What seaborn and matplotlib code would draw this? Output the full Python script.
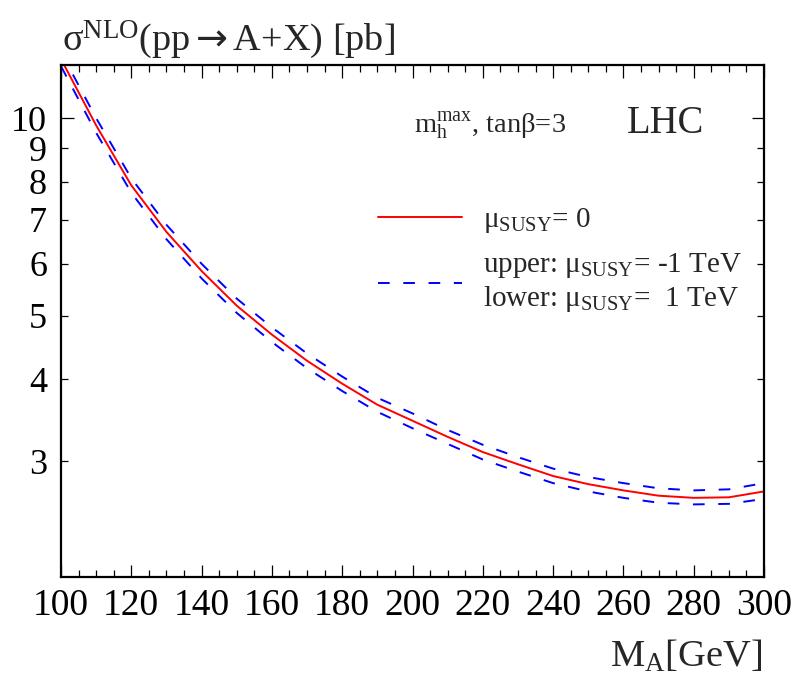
import matplotlib
matplotlib.use("Agg")
import numpy as np
import pandas as pd
import matplotlib.pyplot as plt
import seaborn as sns
from matplotlib.ticker import FixedLocator, MultipleLocator, FuncFormatter
from matplotlib.lines import Line2D

# ---- data ----
mass = [100, 110, 120, 130, 140, 150, 160, 170, 180, 190, 200,
        210, 220, 230, 240, 250, 260, 270, 280, 290, 300]
sigma_mu0 = [12.3, 9.75, 7.90, 6.71, 5.85, 5.18, 4.68, 4.27, 3.94, 3.66, 3.46,
             3.27, 3.10, 2.97, 2.85, 2.77, 2.71, 2.66, 2.64, 2.645, 2.70]
sigma_mu_m1 = [12.6, 10.0, 8.10, 6.88, 6.00, 5.31, 4.80, 4.38, 4.04, 3.75, 3.55,
               3.35, 3.18, 3.045, 2.925, 2.84, 2.78, 2.73, 2.71, 2.72, 2.78]
sigma_mu_p1 = [12.0, 9.50, 7.70, 6.54, 5.70, 5.05, 4.56, 4.16, 3.84, 3.57, 3.37,
               3.19, 3.02, 2.895, 2.78, 2.70, 2.64, 2.595, 2.58, 2.585, 2.63]
y_major = [10]
y_minor = [3, 4, 5, 6, 7, 8, 9]

sns.set_theme(style="ticks")
plt.rcParams.update({
    "font.family": ["Liberation Serif", "DejaVu Sans"],
    "mathtext.fontset": "custom",
    "mathtext.rm": "Liberation Serif",
    "mathtext.it": "Liberation Serif:italic",
    "mathtext.bf": "Liberation Serif:bold",
    "mathtext.sf": "DejaVu Sans",
    "axes.linewidth": 1.5,
})

fig = plt.figure(figsize=(7.95, 6.75), dpi=100)
ax = fig.add_axes([61 / 795, 1 - 577 / 675, 703 / 795, 512 / 675])

df = pd.DataFrame({
    "M": mass * 3,
    "sigma": sigma_mu0 + sigma_mu_m1 + sigma_mu_p1,
    "series": ["mu0"] * len(mass) + ["mum1"] * len(mass) + ["mup1"] * len(mass),
})
sns.lineplot(data=df, x="M", y="sigma", hue="series", style="series",
             palette={"mu0": "#ff0000", "mum1": "#0000ff", "mup1": "#0000ff"},
             dashes={"mu0": "", "mum1": (6, 7), "mup1": (6, 7)},
             linewidth=1.4, legend=False, ax=ax)

ax.set_yscale("log")
ax.set_xlim(100, 300)
ax.set_ylim(2.0, 12.05)
ax.set_xlabel("")
ax.set_ylabel("")

ax.xaxis.set_major_locator(MultipleLocator(20))
ax.xaxis.set_minor_locator(MultipleLocator(5))
ax.yaxis.set_major_locator(FixedLocator(y_major))
ax.yaxis.set_minor_locator(FixedLocator(y_minor))
fmt = FuncFormatter(lambda v, p: f"{v:g}")
ax.yaxis.set_major_formatter(fmt)
ax.yaxis.set_minor_formatter(fmt)
ax.xaxis.set_major_formatter(FuncFormatter(lambda v, p: f"{v:g}"))

ax.tick_params(which="both", direction="in", top=True, right=True,
               colors="black", width=0.9)
ax.tick_params(axis="x", which="both", labelsize=27, pad=8)
ax.tick_params(axis="y", which="both", labelsize=26, pad=10)
ax.tick_params(which="major", length=9)
ax.tick_params(which="minor", length=5)
ax.tick_params(axis="y", which="minor", labelleft=True)
for s in ax.spines.values():
    s.set_color("black")
    s.set_linewidth(1.6)

# texts
fig.text(62 / 795, 1 - 50 / 675,
         "σ$^{\\mathrm{NLO}}$(pp$\\mathsf{\\rightarrow}$A+X) [pb]",
         fontsize=27.5, ha="left", va="baseline")
fig.text(762 / 795, 1 - 667 / 675, r"M$_{\mathrm{A}}$[GeV]",
         fontsize=27.7, ha="right", va="baseline")
ax.text((627 - 61) / 703, (577 - 133) / 512, "LHC", transform=ax.transAxes,
        fontsize=27.8, ha="left", va="baseline")
ax.text((414 - 61) / 703, (577 - 133) / 512,
        r"m$_{\mathrm{h}}^{\mathrm{max}}$, tanβ=3", transform=ax.transAxes,
        fontsize=20.5, ha="left", va="baseline")

handles = [Line2D([], [], color="#ff0000", lw=1.4),
           Line2D([], [], color="#0000ff", lw=1.4, dashes=(6, 7))]
labels = [r"μ$_{\mathrm{SUSY}}$= 0",
          "upper: μ$_{\\mathrm{SUSY}}$= -1 TeV\nlower: μ$_{\\mathrm{SUSY}}$=  1 TeV"]
ax.legend(handles, labels, loc="upper left",
          bbox_to_anchor=((378 - 61) / 703, (577 - 206) / 512),
          fontsize=21, frameon=False, handlelength=2.88, handletextpad=0.72,
          labelspacing=0.55, borderaxespad=0, borderpad=0)

fig.savefig("out.png", dpi=100)
